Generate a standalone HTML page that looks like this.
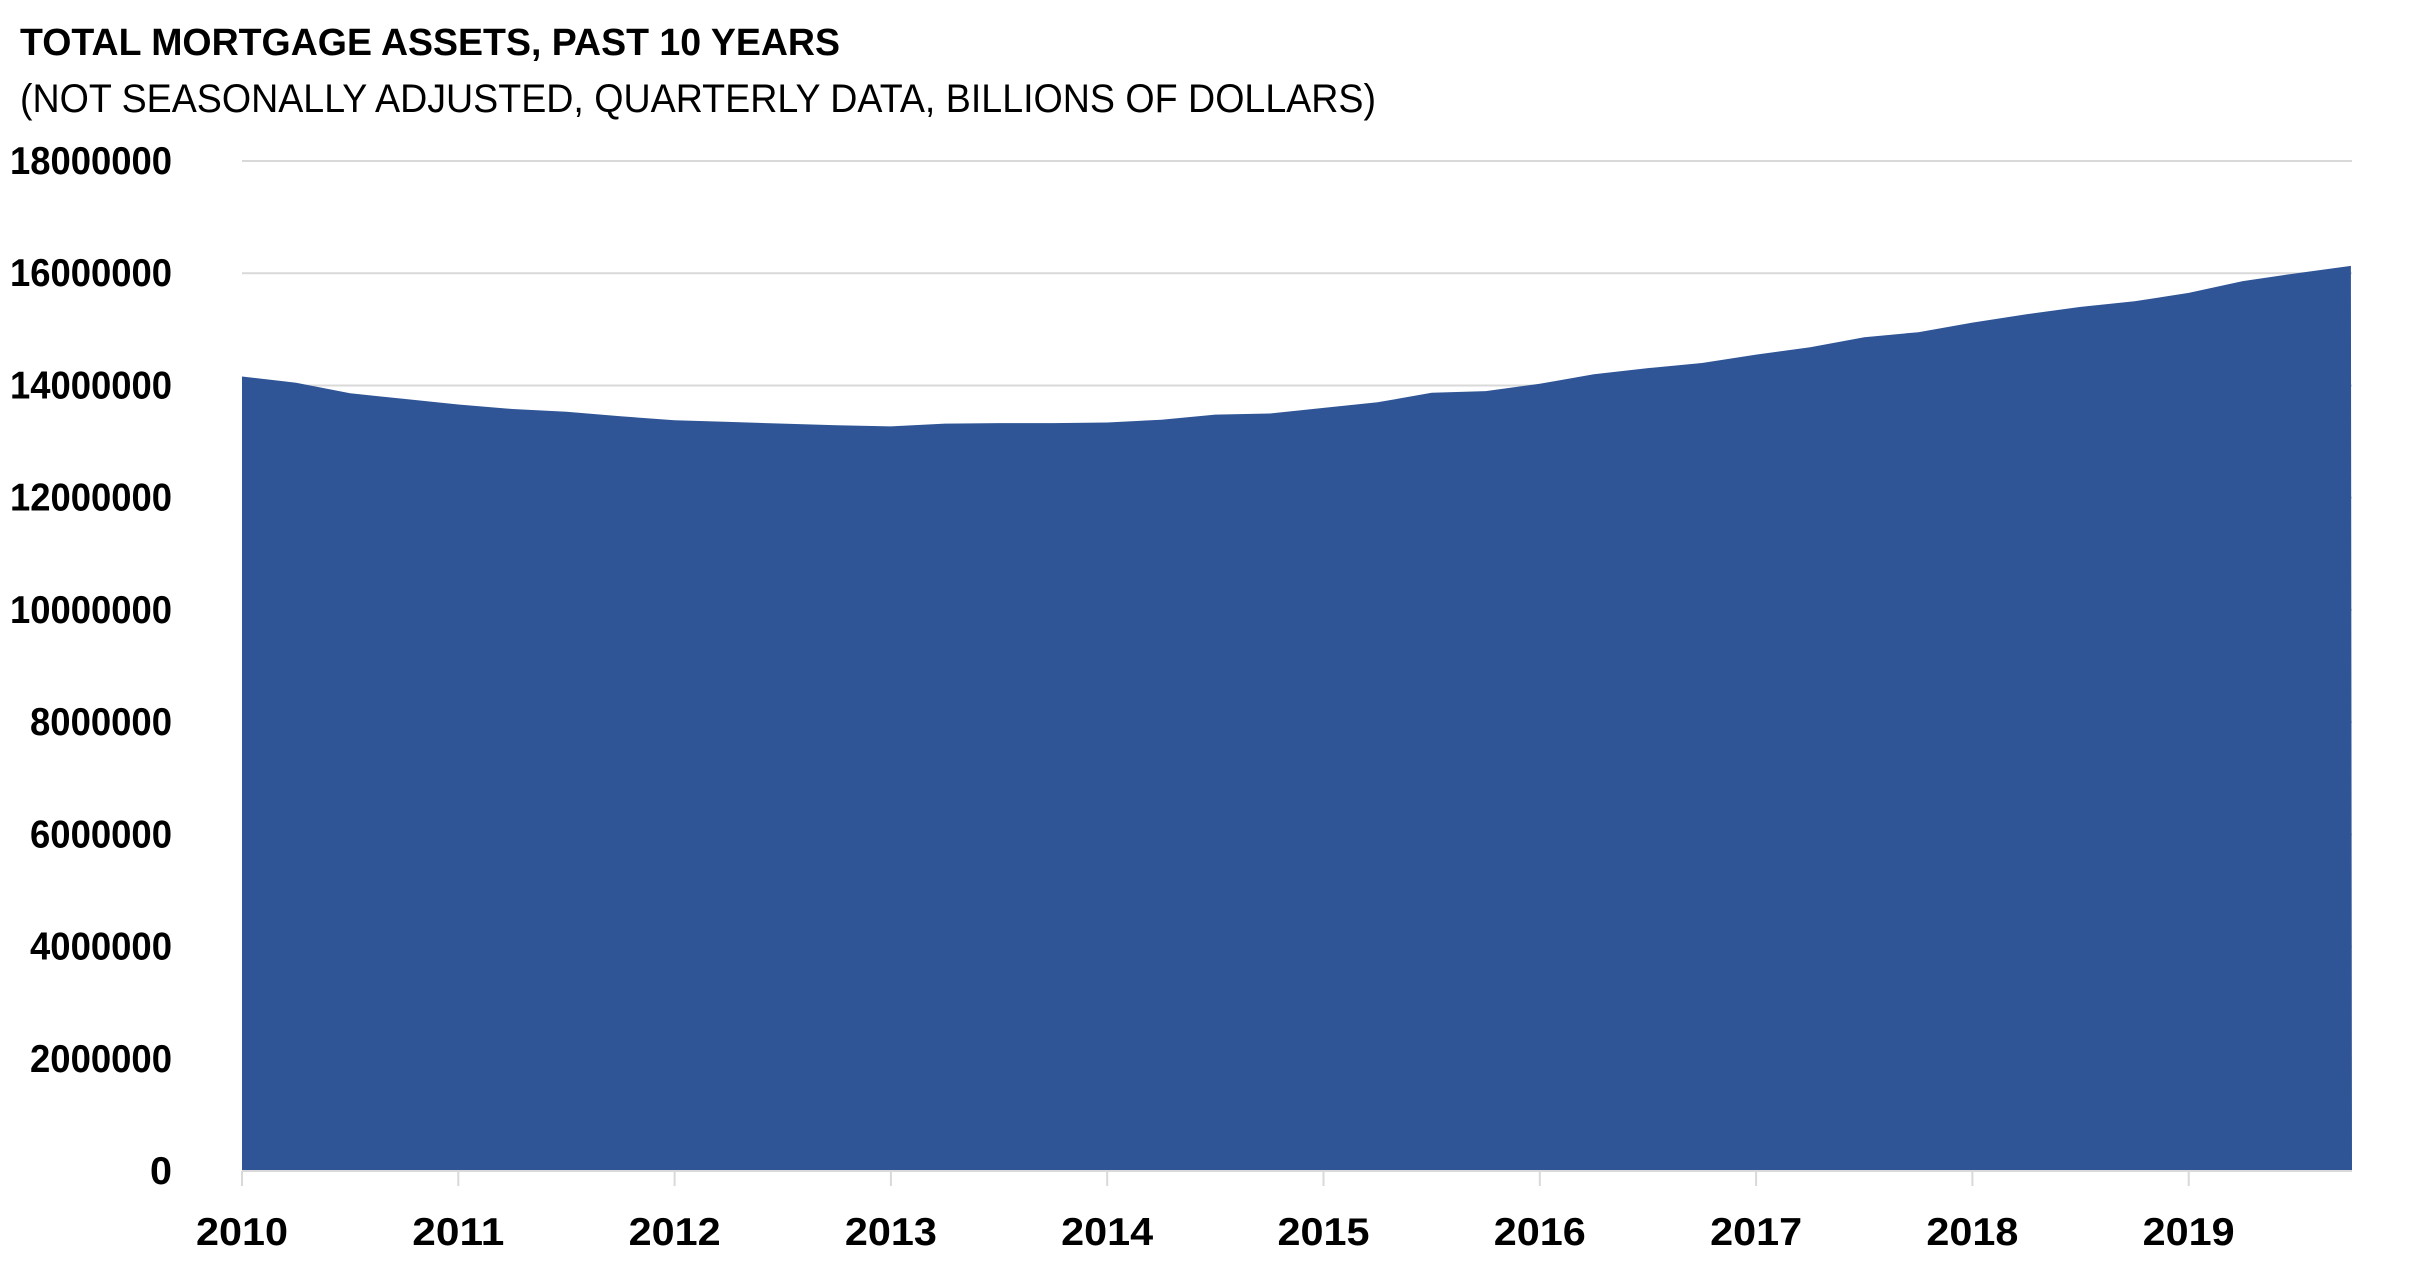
<!DOCTYPE html>
<html><head><meta charset="utf-8"><style>
html,body{margin:0;padding:0;background:#fff;}
svg{display:block;}
text{font-family:"Liberation Sans",sans-serif;fill:#000;}
</style></head><body>
<svg id="s" width="2414" height="1267" viewBox="0 0 2414 1267" xmlns="http://www.w3.org/2000/svg">
<text x="20" y="55" font-size="38" font-weight="bold" textLength="820" lengthAdjust="spacingAndGlyphs">TOTAL MORTGAGE ASSETS, PAST 10 YEARS</text>
<text x="20" y="112" font-size="40" textLength="1356" lengthAdjust="spacingAndGlyphs">(NOT SEASONALLY ADJUSTED, QUARTERLY DATA, BILLIONS OF DOLLARS)</text>
<g id="grid" stroke="#d9d9d9" stroke-width="2"></g>
<path id="area" fill="#2f5597"></path>
<g id="ticks" stroke="#d9d9d9" stroke-width="2"></g>
<g id="ylab" font-size="39" font-weight="bold" text-anchor="end"></g>
<g id="xlab" font-size="39" font-weight="bold" text-anchor="middle"></g>
</svg>
<script>
var ns="http://www.w3.org/2000/svg";
function el(p,t,a,txt){var e=document.createElementNS(ns,t);for(var k in a)e.setAttribute(k,a[k]);if(txt!==undefined)e.textContent=txt;document.getElementById(p).appendChild(e);}
var L=242,R=2352,Z=1171,S=56.11,YW=216.3;
for(var i=1;i<=9;i++){var y=Z-S*2*i;el("grid","line",{x1:L,x2:R,y1:y,y2:y});}
for(var i=0;i<=9;i++){var y=Z-S*2*i;el("ylab","text",{x:172,y:y+13,textLength:(i==0?22:(i<5?142:162)),lengthAdjust:"spacingAndGlyphs"},i==0?"0":String(i*2000000));}
el("ticks","line",{x1:L,x2:R,y1:Z,y2:Z});
for(var k=0;k<=9;k++){var x=L+YW*k;el("ticks","line",{x1:x,x2:x,y1:Z,y2:Z+15});el("xlab","text",{x:x,y:1245,textLength:92,lengthAdjust:"spacingAndGlyphs"},String(2010+k));}
var v=[14.16,14.05,13.86,13.76,13.66,13.58,13.53,13.45,13.38,13.35,13.32,13.29,13.27,13.32,13.33,13.33,13.34,13.39,13.48,13.5,13.6,13.7,13.87,13.9,14.03,14.2,14.31,14.4,14.55,14.68,14.86,14.95,15.12,15.27,15.4,15.5,15.65,15.86,16.0,16.13];
var d="M"+L+","+Z;
for(var i=0;i<v.length;i++){d+=" L"+(L+YW/4*i).toFixed(1)+","+(Z-S*v[i]).toFixed(1);}
d+=" L"+R+","+Z+" Z";
document.getElementById("area").setAttribute("d",d);
</script>
</body></html>
